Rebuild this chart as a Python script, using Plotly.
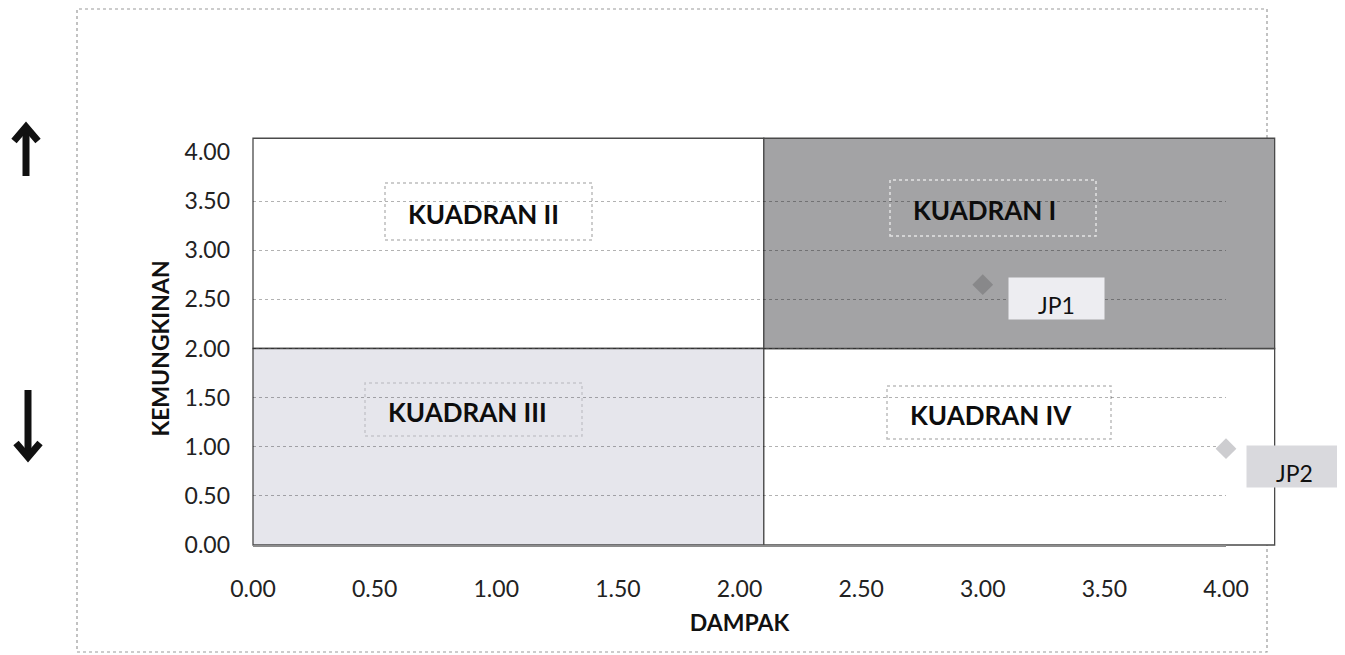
import plotly.graph_objects as go

# ---- data ----
points = ["JP1", "JP2"]
dampak = [3.00, 4.00]          # x values
kemungkinan = [2.65, 0.98]     # y values
point_colors = ["#88888a", "#cdcdd0"]

tick_vals = [0, 0.5, 1, 1.5, 2, 2.5, 3, 3.5, 4]
tick_text = ["0.00", "0.50", "1.00", "1.50", "2.00", "2.50", "3.00", "3.50", "4.00"]

quadrant_names = ["KUADRAN I", "KUADRAN II", "KUADRAN III", "KUADRAN IV"]
x_mid, x_edge = 2.10, 4.20     # quadrant split and outer edge on DAMPAK
y_mid, y_edge = 2.00, 4.14     # quadrant split and outer edge on KEMUNGKINAN

# ---- layout geometry (screen pixels; page body adds an 8px offset) ----
OFF = 8
W, H = 1345 - OFF, 655 - OFF
L, T = 253 - OFF, 152 - OFF
PLOT_R, PLOT_B = 1226 - OFF, 545 - OFF
R, B = W - PLOT_R, H - PLOT_B
PW, PH = PLOT_R - L, PLOT_B - T
XR = (0, 4)
YR = (0, 4)

def px(xs):   # screen pixel x -> paper
    return (xs - OFF - L) / PW

def py(ys):   # screen pixel y -> paper
    return (PLOT_B - (ys - OFF)) / PH

def dx(v):    # data x -> paper
    return (v - XR[0]) / (XR[1] - XR[0])

def dy(v):    # data y -> paper
    return (v - YR[0]) / (YR[1] - YR[0])

FONT = "Lato"

fig = go.Figure()
fig.add_trace(go.Scatter(
    x=dampak, y=kemungkinan, mode="markers",
    marker=dict(symbol="diamond", size=16, color=point_colors,
                line=dict(width=0)),
    showlegend=False, hoverinfo="skip", cliponaxis=False,
))

shapes = []
# outer frame
shapes.append(dict(type="rect", xref="paper", yref="paper",
                   x0=px(77), x1=px(1267), y0=py(652), y1=py(9),
                   line=dict(color="#9a9a9a", width=1.2, dash="dot"),
                   fillcolor="rgba(0,0,0,0)", layer="below"))
# quadrants
quad_fills = {"I": "#a3a3a5", "II": "#ffffff", "III": "#e6e6ec", "IV": "#ffffff"}
quad_bounds = {
    "I": (x_mid, x_edge, y_mid, y_edge),
    "II": (XR[0], x_mid, y_mid, y_edge),
    "III": (XR[0], x_mid, YR[0], y_mid),
    "IV": (x_mid, x_edge, YR[0], y_mid),
}
for k in ["II", "III", "IV", "I"]:
    x0, x1, y0, y1 = quad_bounds[k]
    shapes.append(dict(type="rect", xref="paper", yref="paper",
                       x0=dx(x0), x1=dx(x1), y0=dy(y0), y1=dy(y1),
                       line=dict(color="#4a4a4a", width=1.3),
                       fillcolor=quad_fills[k], layer="below"))

# quadrant label boxes: (name, left, right, top, bottom, border colour) in screen px
quad_boxes = [
    ("KUADRAN I", 890, 1096, 180, 236, "#e4e4e4"),
    ("KUADRAN II", 385, 592, 183, 240, "#bdbdbd"),
    ("KUADRAN III", 365, 582, 383, 436, "#c6c6cc"),
    ("KUADRAN IV", 887, 1111, 386, 439, "#bdbdbd"),
]
for name, l, r, t, b, bc in quad_boxes:
    shapes.append(dict(type="rect", xref="paper", yref="paper",
                       x0=px(l), x1=px(r), y0=py(b), y1=py(t),
                       line=dict(color=bc, width=1.5, dash="dot"),
                       fillcolor="rgba(0,0,0,0)", layer="below"))

# arrows (up / down): shaft + chevron head
def arrow_paths(xc, ytail, ytip, hw, hh):
    up = ytip < ytail
    hy = ytip + hh if up else ytip - hh
    shaft = f"M {px(xc)},{py(ytail)} L {px(xc)},{py(ytip + (4 if up else -4))}"
    head = (f"M {px(xc-hw)},{py(hy)} L {px(xc)},{py(ytip)} "
            f"L {px(xc+hw)},{py(hy)}")
    return shaft, head

for xc, ytail, ytip in [(26, 176, 127), (28, 390, 457)]:
    shaft, head = arrow_paths(xc, ytail, ytip, 12, 14)
    shapes.append(dict(type="path", xref="paper", yref="paper", path=shaft,
                       line=dict(color="#111111", width=7)))
    shapes.append(dict(type="path", xref="paper", yref="paper", path=head,
                       line=dict(color="#111111", width=7)))

annotations = []
pad = 21
for name, l, r, t, b, bc in quad_boxes:
    annotations.append(dict(
        xref="paper", yref="paper", x=px(l + pad), y=py((t + b) / 2 + 2),
        xanchor="left", yanchor="middle",
        text=f"<b>{name}</b>", showarrow=False,
        font=dict(family=FONT, size=26, color="#0d0d0d"),
    ))

# data labels
label_style = [
    dict(xshift=25, yshift=-14, bg="#ededf1"),
    dict(xshift=20, yshift=-18, bg="#d9d9dd"),
]
for name, xv, yv, st in zip(points, dampak, kemungkinan, label_style):
    annotations.append(dict(
        x=xv, y=yv, xref="x", yref="y", xanchor="left", yanchor="middle",
        text=name, showarrow=False,
        font=dict(family=FONT, size=23, color="#111111"),
        width=95, height=41, align="center", valign="bottom",
        borderpad=0, bgcolor=st["bg"],
        xshift=st["xshift"], yshift=st["yshift"],
    ))

fig.update_layout(
    width=W, height=H,
    margin=dict(l=L, r=R, t=T, b=B),
    paper_bgcolor="white", plot_bgcolor="rgba(0,0,0,0)",
    shapes=shapes, annotations=annotations,
    font=dict(family=FONT, color="#1a1a1a"),
    xaxis=dict(range=list(XR), tickvals=tick_vals, ticktext=tick_text,
               showgrid=False, zeroline=False, showline=True,
               linecolor="#8c8c8c", linewidth=2, ticks="",
               ticklabelstandoff=22,
               tickfont=dict(family=FONT, size=23, color="#222222"),
               title=dict(text="<b>DAMPAK</b>", standoff=14,
                          font=dict(family=FONT, size=23, color="#111111"))),
    yaxis=dict(range=list(YR), tickvals=tick_vals, ticktext=tick_text,
               showgrid=True, gridcolor="rgba(0,0,0,0.3)", griddash="dot",
               gridwidth=1, zeroline=False, showline=False, ticks="",
               ticklabelstandoff=22,
               tickfont=dict(family=FONT, size=23, color="#222222"),
               title=dict(text="<b>KEMUNGKINAN</b>", standoff=8,
                          font=dict(family=FONT, size=23, color="#111111"))),
)

fig.write_html("out.html")
